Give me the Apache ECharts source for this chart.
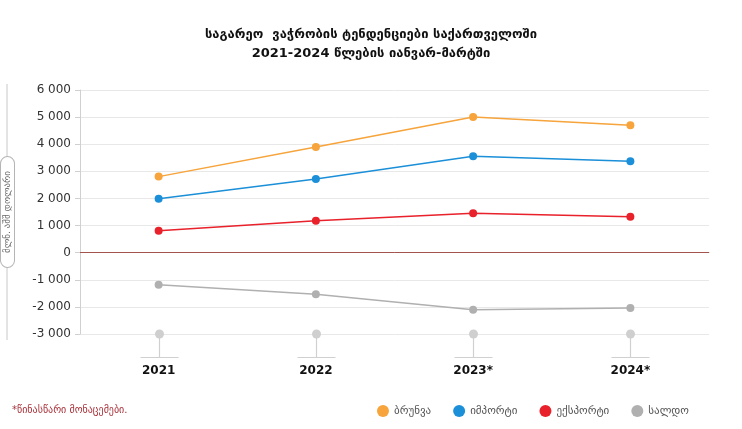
<!DOCTYPE html>
<html>
<head>
<meta charset="utf-8">
<script src="https://cdn.jsdelivr.net/npm/echarts@6/dist/echarts.min.js"></script>
<style>
html,body{margin:0;padding:0;background:#fff;}
#main{width:742px;height:429px;}
</style>
</head>
<body>
<div id="main"></div>
<script>
var categories = ['2021', '2022', '2023*', '2024*'];
var turnover = [2805, 3897, 5003, 4697];
var imports = [1993, 2716, 3553, 3369];
var exports = [812, 1181, 1450, 1328];
var balance = [-1181, -1535, -2103, -2041];
var seriesNames = ['ბრუნვა', 'იმპორტი', 'ექსპორტი', 'სალდო'];
var yMin = -3000, yMax = 6000, yStep = 1000;
var titleText = 'საგარეო  ვაჭრობის ტენდენციები საქართველოში\n2021-2024 წლების იანვარ-მარტში';
var unitText = 'მლნ. აშშ დოლარი';
var footnote = '*წინასწარი მონაცემები.';

var colors = ['#f6a43b', '#1b8fd8', '#e8212b', '#b0b0b0'];
var font = 'DejaVu Sans, Noto Sans, sans-serif';

function fmt(v) {
  var s = Math.abs(v).toString().replace(/\B(?=(\d{3})+(?!\d))/g, ' ');
  return (v < 0 ? '-' : '') + s;
}

function lineSeries(name, data, color, extra) {
  var s = {
    name: name, type: 'line', data: data,
    symbol: 'circle', symbolSize: 8,
    lineStyle: { color: color, width: 1.5 },
    itemStyle: { color: color },
    z: 5
  };
  if (extra) Object.assign(s, extra);
  return s;
}

var chart = echarts.init(document.getElementById('main'), null, { renderer: 'canvas' });
chart.setOption({
  backgroundColor: '#fff',
  textStyle: { fontFamily: font },
  color: colors,
  title: {
    text: titleText, left: 'center', top: 20,
    textStyle: { fontFamily: font, fontSize: 13, fontWeight: 'bold', color: '#111', lineHeight: 19 }
  },
  legend: {
    data: seriesNames, bottom: 7, right: 48, icon: 'circle',
    itemWidth: 12, itemHeight: 12, itemGap: 22,
    textStyle: { fontFamily: font, fontSize: 11, color: '#555' }
  },
  grid: { left: 80, right: 33, top: 90, bottom: 95, containLabel: false, outerBoundsMode: 'none' },
  xAxis: {
    type: 'category', data: categories, boundaryGap: true,
    axisLine: { lineStyle: { color: '#b8b8b8', width: 1.2 } },
    axisTick: { show: false },
    axisLabel: { margin: 31, fontFamily: font, fontSize: 12, fontWeight: 'bold', color: '#111' },
    splitLine: { show: false }
  },
  yAxis: {
    type: 'value', min: yMin, max: yMax, interval: yStep,
    name: unitText, nameLocation: 'middle', nameRotate: 90, nameGap: 66,
    nameTextStyle: {
      fontFamily: font, fontSize: 9, color: '#666',
      borderColor: '#b5b5b5', borderWidth: 1, borderRadius: 8,
      padding: [2, 14, 2, 14], backgroundColor: '#fff'
    },
    axisLine: { show: true, lineStyle: { color: '#d0d0d0' } },
    axisTick: { show: true, length: 5, lineStyle: { color: '#d0d0d0' } },
    axisLabel: { formatter: fmt, fontFamily: font, fontSize: 12, color: '#333', margin: 9 },
    splitLine: { lineStyle: { color: '#e8e8e8' } }
  },
  graphic: [
    { type: 'line', z: -10, shape: { x1: 7, y1: 84, x2: 7, y2: 340 }, style: { stroke: '#c8c8c8', lineWidth: 1 } },
    { type: 'text', left: 12, top: 405, style: { text: footnote, fill: '#a8323a', font: '10px ' + font } }
  ],
  series: [
    lineSeries(seriesNames[0], turnover, colors[0], {
      markLine: {
        silent: true, symbol: 'none', label: { show: false },
        lineStyle: { color: '#a2554d', type: 'solid', width: 1 },
        data: [{ yAxis: 0 }]
      }
    }),
    lineSeries(seriesNames[1], imports, colors[1]),
    lineSeries(seriesNames[2], exports, colors[2]),
    lineSeries(seriesNames[3], balance, colors[3]),
    {
      type: 'custom', silent: true, clip: false, z: 3,
      data: categories.map(function (c, i) { return [i, yMin]; }),
      renderItem: function (params, api) {
        var p = api.coord([api.value(0), api.value(1)]);
        var x = Math.round(p[0]) + 0.5, y = p[1];
        return {
          type: 'group',
          children: [
            { type: 'line', shape: { x1: x, y1: y, x2: x, y2: y + 23 }, style: { stroke: '#d0d0d0', lineWidth: 1.2 } },
            { type: 'line', shape: { x1: x - 19, y1: y + 23.5, x2: x + 19, y2: y + 23.5 }, style: { stroke: '#d0d0d0', lineWidth: 1.2 } },
            { type: 'circle', shape: { cx: x, cy: y, r: 4.5 }, style: { fill: '#cfcfcf' } }
          ]
        };
      }
    }
  ]
});
</script>
</body>
</html>
